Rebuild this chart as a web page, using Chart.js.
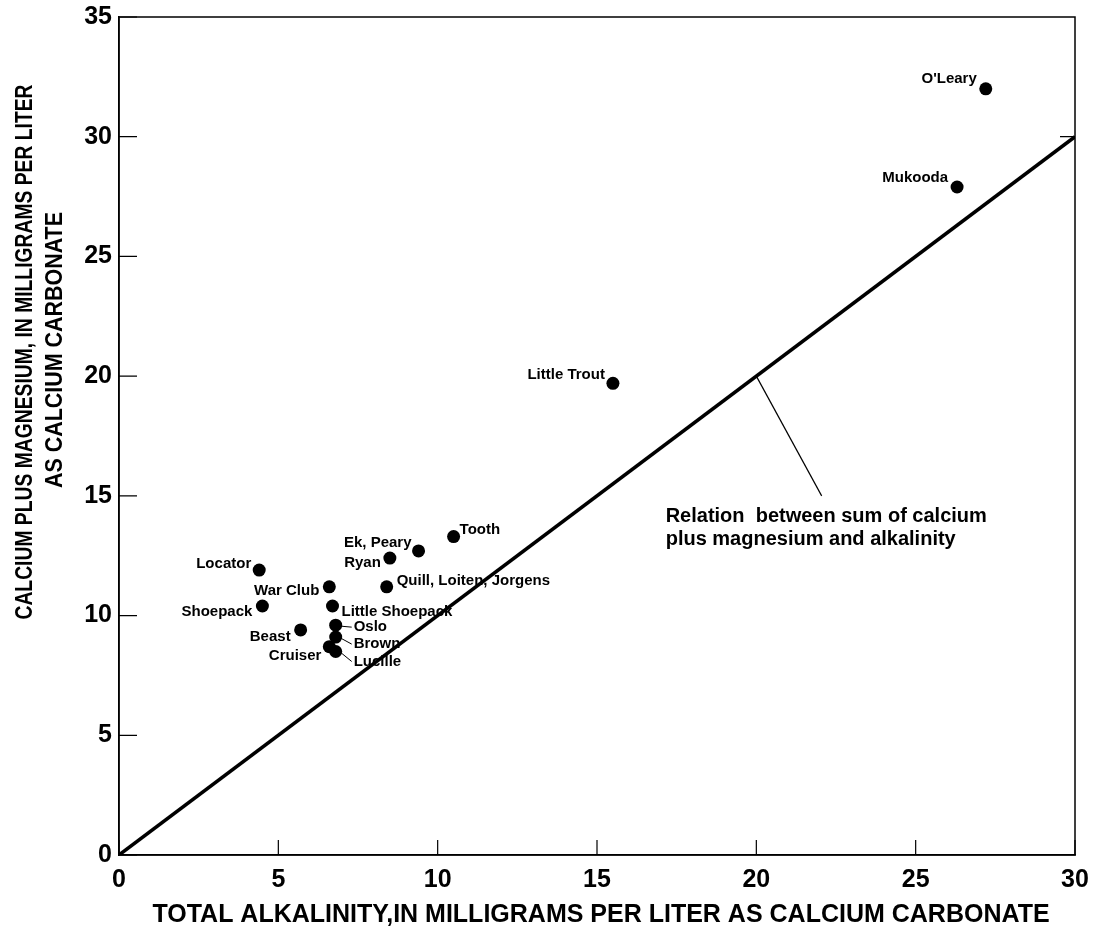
<!DOCTYPE html>
<html lang="en">
<head>
    <meta charset="UTF-8">
    <script src="https://cdn.jsdelivr.net/npm/chart.js"></script>
    <title>Calcium plus magnesium vs alkalinity</title>
    <style>
        html, body { margin: 0; padding: 0; background: #fff; }
        #wrap { width: 1097px; height: 935px; }
    </style>
</head>
<body>
<div id="wrap"><canvas id="lakeChart"></canvas></div>
<script>
// lake samples
const lakes = ["O'Leary", "Mukooda", "Little Trout", "Tooth", "Ek, Peary", "Ryan",
    "Quill, Loiten, Jorgens", "Locator", "War Club", "Shoepack", "Little Shoepack",
    "Oslo", "Beast", "Brown", "Cruiser", "Lucille"];
const alkalinity = [27.2, 26.3, 15.5, 10.5, 9.4, 8.5, 8.4, 4.4, 6.6, 4.5, 6.7, 6.8, 5.7, 6.8, 6.6, 6.8];
const calciumMagnesium = [32.0, 27.9, 19.7, 13.3, 12.7, 12.4, 11.2, 11.9, 11.2, 10.4, 10.4, 9.6, 9.4, 9.1, 8.7, 8.5];

// 1:1 relation line
const relationX = [0, 30];
const relationY = [0, 30];

const xTicks = [0, 5, 10, 15, 20, 25, 30];
const yTicks = [0, 5, 10, 15, 20, 25, 30, 35];

// label placement next to each dot: [align, dx, dy, leader]
const labelPos = {
    "O'Leary": ['right', -9, -10],
    "Mukooda": ['right', -9, -9],
    "Little Trout": ['right', -8, -8],
    "Tooth": ['left', 6, -7],
    "Ek, Peary": ['right', -7, -8],
    "Ryan": ['right', -9, 5],
    "Quill, Loiten, Jorgens": ['left', 10, -6],
    "Locator": ['right', -8, -6],
    "War Club": ['right', -10, 4],
    "Shoepack": ['right', -10, 6],
    "Little Shoepack": ['left', 9, 6],
    "Oslo": ['left', 18, 2, true],
    "Beast": ['right', -10, 7],
    "Brown": ['left', 18, 7, true],
    "Cruiser": ['right', -8, 9],
    "Lucille": ['left', 18, 10, true]
};

const FONT = '"Liberation Sans", Arial, Helvetica, sans-serif';

const decorPlugin = {
    id: 'decor',
    afterDatasetsDraw(chart) {
        const ctx = chart.ctx;
        const a = chart.chartArea;
        const xs = chart.scales.x, ys = chart.scales.y;
        ctx.save();

        // frame
        ctx.strokeStyle = '#000';
        ctx.lineWidth = 1.5;
        ctx.strokeRect(a.left, a.top, a.right - a.left, a.bottom - a.top);

        // inward ticks
        ctx.lineWidth = 1.2;
        ctx.beginPath();
        yTicks.forEach(v => {
            const py = ys.getPixelForValue(v);
            ctx.moveTo(a.left, py); ctx.lineTo(a.left + 18, py);
        });
        xTicks.forEach(v => {
            const px = xs.getPixelForValue(v);
            ctx.moveTo(px, a.bottom); ctx.lineTo(px, a.bottom - 15);
        });
        ctx.moveTo(a.right, ys.getPixelForValue(30)); ctx.lineTo(a.right - 15, ys.getPixelForValue(30));
        ctx.stroke();

        // point labels
        ctx.fillStyle = '#000';
        ctx.font = 'bold 15px ' + FONT;
        ctx.textBaseline = 'middle';
        const pts = chart.getDatasetMeta(0).data;
        lakes.forEach((name, i) => {
            const p = pts[i];
            const [align, dx, dy, leader] = labelPos[name];
            ctx.textAlign = align;
            const tx = p.x + dx, ty = p.y + dy;
            ctx.fillText(name, tx, ty);
            if (leader) {
                ctx.lineWidth = 1;
                ctx.beginPath();
                ctx.moveTo(p.x + 5, p.y + 1);
                ctx.lineTo(tx - 2, ty);
                ctx.stroke();
            }
        });

        // relation annotation
        const lx0 = xs.getPixelForValue(20.0), ly0 = ys.getPixelForValue(20.0);
        const lx1 = xs.getPixelForValue(22.05), ly1 = ys.getPixelForValue(15.0);
        ctx.lineWidth = 1.2;
        ctx.beginPath();
        ctx.moveTo(lx0, ly0); ctx.lineTo(lx1, ly1);
        ctx.stroke();
        ctx.font = 'bold 20px ' + FONT;
        ctx.textAlign = 'left';
        ctx.fillText('Relation  between sum of calcium', lx1 - 156, ly1 + 21, 322);
        ctx.fillText('plus magnesium and alkalinity', lx1 - 156, ly1 + 44);

        // axis titles
        ctx.font = 'bold 25px ' + FONT;
        ctx.textAlign = 'center';
        ctx.fillText('TOTAL ALKALINITY,IN MILLIGRAMS PER LITER AS CALCIUM CARBONATE', 601, 915, 911);
        ctx.font = 'bold 24px ' + FONT;
        ctx.save();
        ctx.translate(25, 352);
        ctx.rotate(-Math.PI / 2);
        ctx.fillText('CALCIUM PLUS MAGNESIUM, IN MILLIGRAMS PER LITER', 0, 0, 535);
        ctx.restore();
        ctx.save();
        ctx.translate(55, 350);
        ctx.rotate(-Math.PI / 2);
        ctx.fillText('AS CALCIUM CARBONATE', 0, 0, 276);
        ctx.restore();

        ctx.restore();
    }
};

new Chart(document.getElementById('lakeChart').getContext('2d'), {
    type: 'scatter',
    data: {
        datasets: [{
            label: 'Lakes',
            data: lakes.map((n, i) => ({ x: alkalinity[i], y: calciumMagnesium[i] })),
            pointRadius: 6.5,
            pointHoverRadius: 6.5,
            backgroundColor: '#000',
            borderColor: '#000',
            borderWidth: 0
        }, {
            label: 'Relation',
            data: relationX.map((x, i) => ({ x: x, y: relationY[i] })),
            showLine: true,
            pointRadius: 0,
            borderColor: '#000',
            borderWidth: 3.5
        }]
    },
    options: {
        responsive: true,
        maintainAspectRatio: false,
        animation: false,
        events: [],
        layout: { padding: { top: 17, right: 22, left: 0, bottom: 0 } },
        plugins: { legend: { display: false }, tooltip: { enabled: false } },
        scales: {
            x: {
                type: 'linear', min: 0, max: 30,
                afterFit: s => { s.height = 80; s.paddingLeft = 0; s.paddingRight = 0; },
                afterBuildTicks: s => { s.ticks = xTicks.map(v => ({ value: v })); },
                grid: { display: false, drawTicks: false },
                border: { display: true, color: '#000', width: 1.5 },
                ticks: { color: '#000', padding: 10, font: { family: FONT, size: 25, weight: 'bold' } }
            },
            y: {
                type: 'linear', min: 0, max: 35,
                afterFit: s => { s.width = 119; s.paddingTop = 0; s.paddingBottom = 0; },
                afterBuildTicks: s => { s.ticks = yTicks.map(v => ({ value: v })); },
                grid: { display: false, drawTicks: false },
                border: { display: true, color: '#000', width: 1.5 },
                ticks: { color: '#000', padding: 7, font: { family: FONT, size: 25, weight: 'bold' } }
            }
        }
    },
    plugins: [decorPlugin]
});
</script>
</body>
</html>
